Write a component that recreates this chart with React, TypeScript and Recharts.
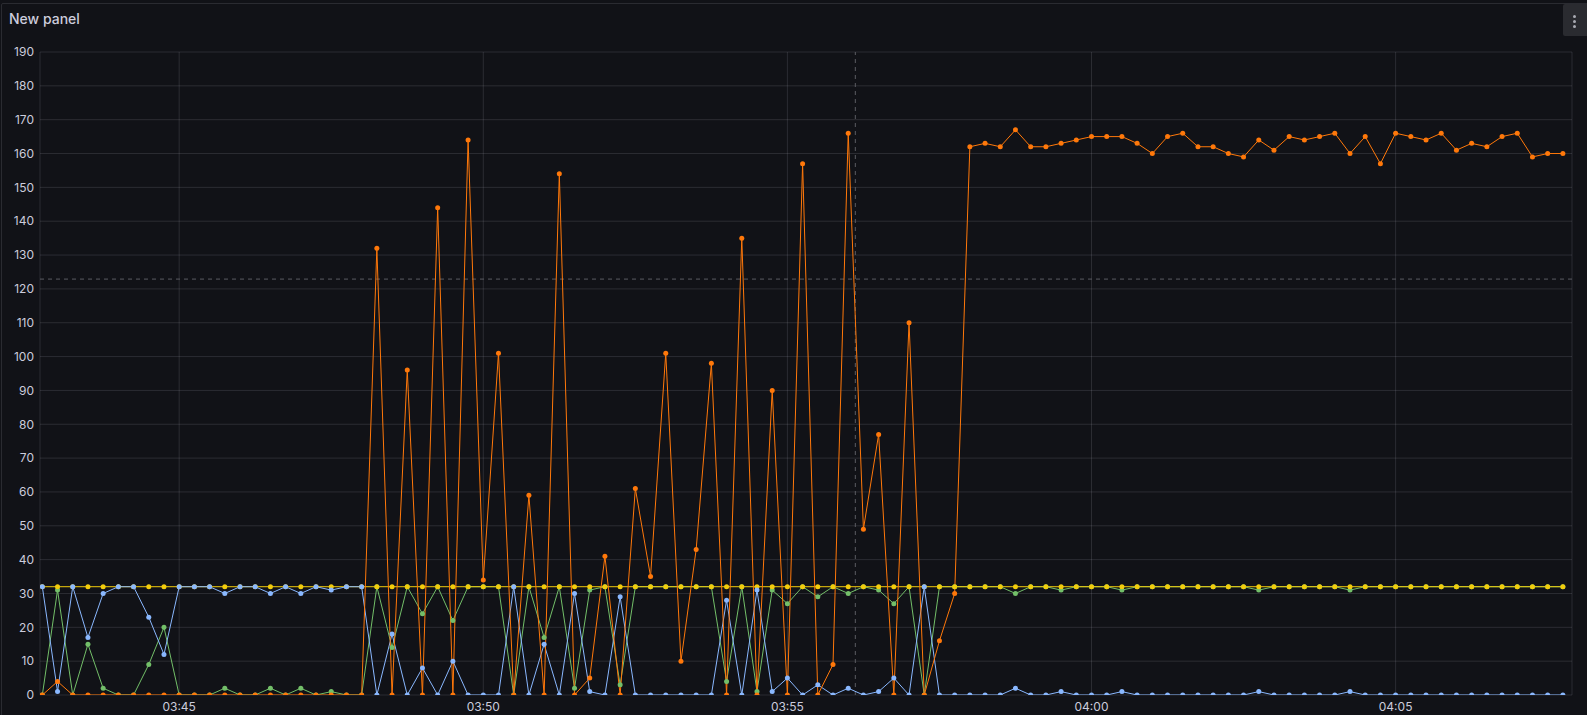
import { LineChart, Line, XAxis, YAxis, CartesianGrid, ReferenceLine } from "recharts";

// samples every 15 s starting at 03:42:45 (seconds of day)
const START = 13365;
const STEP = 15;

const greenValues = [
  0, 31, 0, 15, 2, 0, 0, 9, 20, 0, 0, 0, 2, 0, 0, 2, 0, 2, 0, 1,
  0, 0, 32, 14, 32, 24, 32, 22, 32, 32, 32, 0, 32, 17, 32, 2, 31, 32, 3, 32,
  32, 32, 32, 32, 32, 4, 32, 1, 31, 27, 32, 29, 32, 30, 32, 31, 27, 32, 0, 32,
  32, 32, 32, 32, 30, 32, 32, 31, 32, 32, 32, 31, 32, 32, 32, 32, 32, 32, 32, 32,
  31, 32, 32, 32, 32, 32, 31, 32, 32, 32, 32, 32, 32, 32, 32, 32, 32, 32, 32, 32,
  32,
];

const yellowValues = [
  32, 32, 32, 32, 32, 32, 32, 32, 32, 32, 32, 32, 32, 32, 32, 32, 32, 32, 32, 32,
  32, 32, 32, 32, 32, 32, 32, 32, 32, 32, 32, 32, 32, 32, 32, 32, 32, 32, 32, 32,
  32, 32, 32, 32, 32, 32, 32, 32, 32, 32, 32, 32, 32, 32, 32, 32, 32, 32, 32, 32,
  32, 32, 32, 32, 32, 32, 32, 32, 32, 32, 32, 32, 32, 32, 32, 32, 32, 32, 32, 32,
  32, 32, 32, 32, 32, 32, 32, 32, 32, 32, 32, 32, 32, 32, 32, 32, 32, 32, 32, 32,
  32,
];

const blueValues = [
  32, 1, 32, 17, 30, 32, 32, 23, 12, 32, 32, 32, 30, 32, 32, 30, 32, 30, 32, 31,
  32, 32, 0, 18, 0, 8, 0, 10, 0, 0, 0, 32, 0, 15, 0, 30, 1, 0, 29, 0,
  0, 0, 0, 0, 0, 28, 0, 31, 1, 5, 0, 3, 0, 2, 0, 1, 5, 0, 32, 0,
  0, 0, 0, 0, 2, 0, 0, 1, 0, 0, 0, 1, 0, 0, 0, 0, 0, 0, 0, 0,
  1, 0, 0, 0, 0, 0, 1, 0, 0, 0, 0, 0, 0, 0, 0, 0, 0, 0, 0, 0,
  0,
];

const orangeValues = [
  0, 4, 0, 0, 0, 0, 0, 0, 0, 0, 0, 0, 0, 0, 0, 0, 0, 0, 0, 0,
  0, 0, 132, 0, 96, 0, 144, 0, 164, 34, 101, 0, 59, 0, 154, 0, 5, 41, 0, 61,
  35, 101, 10, 43, 98, 0, 135, 0, 90, 0, 157, 0, 9, 166, 49, 77, 0, 110, 0, 16,
  30, 162, 163, 162, 167, 162, 162, 163, 164, 165, 165, 165, 163, 160, 165, 166, 162, 162, 160, 159,
  164, 161, 165, 164, 165, 166, 160, 165, 157, 166, 165, 164, 166, 161, 163, 162, 165, 166, 159, 160,
  160,
];

const xTicks = [13500, 13800, 14100, 14400, 14700]; // 03:45 .. 04:05
const yTicks = [0, 10, 20, 30, 40, 50, 60, 70, 80, 90, 100, 110, 120, 130, 140, 150, 160, 170, 180, 190];

// hover crosshair position
const cursorTime = 14167;
const cursorValue = 122.9;

const data = orangeValues.map((_, i) => ({
  t: START + i * STEP,
  green: greenValues[i],
  yellow: yellowValues[i],
  blue: blueValues[i],
  orange: orangeValues[i],
}));

const SERIES = [
  { key: "green", color: "#73BF69" },
  { key: "yellow", color: "#F2CC0C" },
  { key: "blue", color: "#8AB8FF" },
  { key: "orange", color: "#FF780A" },
];

const fmtTime = (s: number) => {
  const h = Math.floor(s / 3600);
  const m = Math.floor((s % 3600) / 60);
  return `${String(h).padStart(2, "0")}:${String(m).padStart(2, "0")}`;
};

const tickStyle = { fill: "#ccccdc", fontSize: 12, fontFamily: "Inter, sans-serif" };

export default function App() {
  return (
    <div
      style={{
        position: "absolute",
        top: 0,
        left: 0,
        width: 1587,
        height: 715,
        overflow: "hidden",
        background: "#111217",
      }}
    >
      <div
        style={{
          position: "absolute",
          left: 1,
          top: 3,
          width: 1620,
          height: 800,
          border: "1px solid #2a2b31",
          borderRadius: 2,
          boxSizing: "border-box",
        }}
      />
      <div
        style={{
          position: "absolute",
          left: 9,
          top: 10,
          color: "#ccccdc",
          fontFamily: "Inter, sans-serif",
          fontSize: 14,
          fontWeight: 500,
          lineHeight: "17px",
        }}
      >
        New panel
      </div>
      <div
        style={{
          position: "absolute",
          left: 1563,
          top: 4,
          width: 24,
          height: 32,
          background: "#2a2b30",
          borderRadius: "2px 0 0 2px",
        }}
      >
        {[11, 16, 21].map((y) => (
          <div
            key={y}
            style={{
              position: "absolute",
              left: 10,
              top: y,
              width: 3,
              height: 3,
              borderRadius: 2,
              background: "#a9aab2",
            }}
          />
        ))}
      </div>
      <div style={{ position: "absolute", left: 0, top: 0 }}>
        <LineChart
          width={1587}
          height={715}
          data={data}
          margin={{ top: 52, right: 15, bottom: 0, left: 8 }}
        >
          <CartesianGrid stroke="rgba(204,204,220,0.14)" strokeWidth={1} />
          <XAxis
            dataKey="t"
            type="number"
            domain={[13362.7, 14874]}
            allowDataOverflow
            ticks={xTicks}
            tickFormatter={fmtTime}
            axisLine={false}
            tickLine={false}
            tickSize={0}
            tickMargin={7}
            height={20}
            tick={tickStyle}
          />
          <YAxis
            type="number"
            domain={[0, 190]}
            allowDataOverflow
            ticks={yTicks}
            interval={0}
            axisLine={false}
            tickLine={false}
            tickSize={0}
            tickMargin={6}
            width={32}
            tick={tickStyle}
          />
          <ReferenceLine x={cursorTime} stroke="#5b5c62" strokeDasharray="4 4" />
          <ReferenceLine y={cursorValue} stroke="#5b5c62" strokeDasharray="4 4" />
          {SERIES.map((s) => (
            <Line
              key={s.key}
              type="linear"
              dataKey={s.key}
              stroke={s.color}
              strokeWidth={1}
              dot={{ r: 2.5, fill: s.color, stroke: s.color, strokeWidth: 0 }}
              activeDot={false}
              isAnimationActive={false}
            />
          ))}
        </LineChart>
      </div>
    </div>
  );
}
